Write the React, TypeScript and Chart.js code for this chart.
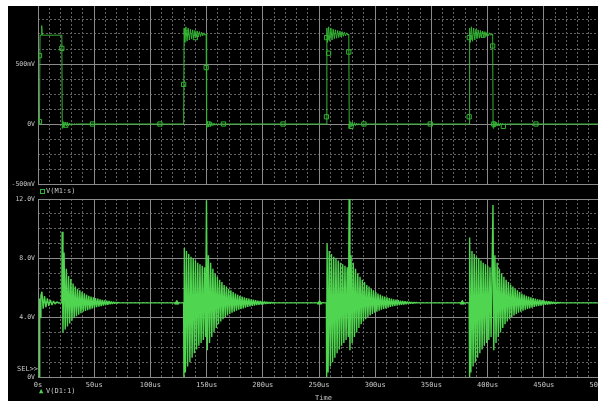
import React, { useEffect, useRef } from 'react';
import { Chart, registerables } from 'chart.js';

Chart.register(...registerables);

// ---------- switching instants (µs) ----------
const pulseRise = [1.3, 129.6, 256.6, 383.6];
const pulseFall = [21.2, 149.6, 276.5, 404.5];
const ringStep = 1; // µs between ringing samples

// ---------- V(M1:s) (volts) ----------
const m1Pulse1T = [0, 1.3, 1.8, 2.9, 3.3, 3.8, 21.2];
const m1Pulse1V = [0, 0, 0.74, 0.74, 0.82, 0.74, 0.74];
const m1OnStart = 0.8;
const m1OnRing = [0.68, 0.81, 0.69, 0.8, 0.7, 0.79, 0.71, 0.785, 0.715, 0.78, 0.72, 0.775, 0.725, 0.77, 0.73, 0.765, 0.735, 0.76, 0.74];
const m1FallStart = 0.75;
const m1Undershoot = -0.035;
const m1OffRing = [0.022, -0.024, 0.016, -0.018, 0.012, -0.014, 0.008, -0.01, 0.005, -0.007, 0.003, -0.004, 0.001, 0];
const m1MarkT = [1.3, 1.35, 21.2, 24.7, 48.5, 108.5, 129.6, 132, 140, 149.6, 152, 165, 218, 256.6, 256.7, 258.5, 276.5, 278.5, 290, 349, 383.6, 383.7, 396, 404.5, 405.5, 414, 443];
const m1MarkV = [0.02, 0.57, 0.63, -0.01, 0, 0, 0.33, 0.76, 0.72, 0.47, 0, 0, 0, 0.06, 0.72, 0.59, 0.6, -0.02, 0, 0, 0.06, 0.72, 0.74, 0.65, 0, -0.02, 0];

// ---------- V(D1:1) (volts) ----------
const d1Level = 5.0;
const d1StartT = [0, 1.3, 1.5, 1.9, 2.6, 3.5, 4.6, 5.8, 7.0, 8.3, 9.6, 11.0, 12.4, 13.8, 15.2, 16.8, 18.5, 21.2];
const d1StartV = [0, 0, 5.3, 4.0, 5.5, 5.75, 4.6, 5.45, 4.7, 5.3, 4.8, 5.2, 4.85, 5.12, 4.92, 5.06, 4.98, 5.0];
const d1OnPeak = [0, 8.7, 9.0, 9.4];
const d1OnRing = [0.3, 8.5, 0.7, 8.3, 1.0, 8.1, 1.3, 8.0, 1.6, 7.85, 1.85, 7.7, 2.1, 7.6, 2.3, 7.5, 2.5, 7.4, 2.7];
const d1OffSpike = [9.8, 11.9, 12.0, 11.6];
const d1OffRing1 = [
  3.0, 8.4, 3.2, 7.3, 3.4, 6.8, 3.6, 6.6, 3.8, 6.3,
  4.0, 6.1, 4.1, 5.95, 4.2, 5.85, 4.3, 5.75, 4.4, 5.65,
  4.45, 5.55, 4.5, 5.48, 4.55, 5.42, 4.6, 5.37, 4.65, 5.32,
  4.7, 5.28, 4.74, 5.24, 4.78, 5.2, 4.81, 5.17, 4.84, 5.14,
  4.87, 5.12, 4.9, 5.09, 4.92, 5.07, 4.94, 5.05, 4.96, 5.03,
];
const d1OffRing = [
  1.8, 8.2, 2.3, 7.7, 2.7, 7.3, 3.0, 7.0, 3.3, 6.75,
  3.55, 6.55, 3.75, 6.4, 3.9, 6.2, 4.05, 6.1, 4.15, 5.95,
  4.25, 5.85, 4.33, 5.72, 4.4, 5.63, 4.47, 5.55, 4.53, 5.48,
  4.58, 5.42, 4.63, 5.37, 4.68, 5.32, 4.72, 5.28, 4.76, 5.24,
  4.79, 5.21, 4.82, 5.18, 4.85, 5.15, 4.87, 5.13, 4.89, 5.11,
  4.91, 5.09, 4.93, 5.07, 4.95, 5.05, 4.96, 5.04, 4.98, 5.02,
];
const d1MarkT = [123.5, 250.5, 377.5];
const d1MarkV = [5.0, 5.0, 5.0];

// ---------- axes ----------
const timeTicks = [0, 50, 100, 150, 200, 250, 300, 350, 400, 450, 500];
const timeLabels = ['0s', '50us', '100us', '150us', '200us', '250us', '300us', '350us', '400us', '450us', '500us'];
const m1Ticks = [-0.5, 0, 0.5, 1.0];
const m1Labels = ['-500mV', '0V', '500mV', '1.0V'];
const d1Ticks = [0, 4, 8, 12];
const d1Labels = ['0V', '4.0V', '8.0V', '12.0V'];

const MAJOR = '#8a8a8a';
const MINOR = '#626262';
const TXT = '#c8c8c8';
const M1_COLOR = '#33b433';
const D1_COLOR = '#50d550';
const FONT = 'DejaVu Sans Mono';

type P = { x: number; y: number };

function buildM1(): P[] {
  const pts: P[] = [];
  m1Pulse1T.forEach((t, i) => pts.push({ x: t, y: m1Pulse1V[i] }));
  for (let p = 0; p < pulseRise.length; p++) {
    const tr = pulseRise[p];
    const tf = pulseFall[p];
    if (p > 0) {
      pts.push({ x: tr, y: 0 });
      pts.push({ x: tr + 0.4, y: m1OnStart });
      m1OnRing.forEach((v, i) => {
        const t = tr + 1 + i * ringStep;
        if (t < tf - 0.2) pts.push({ x: t, y: v });
      });
      pts.push({ x: tf, y: m1FallStart });
    }
    pts.push({ x: tf + 0.4, y: m1Undershoot });
    m1OffRing.forEach((v, i) => pts.push({ x: tf + 1 + i * ringStep, y: v }));
  }
  pts.push({ x: 500, y: 0 });
  return pts;
}

function buildD1(): P[] {
  const pts: P[] = [];
  d1StartT.forEach((t, i) => pts.push({ x: t, y: d1StartV[i] }));
  for (let p = 0; p < pulseRise.length; p++) {
    const tr = pulseRise[p];
    const tf = pulseFall[p];
    if (p > 0) {
      pts.push({ x: tr, y: d1Level });
      pts.push({ x: tr + 0.2, y: 0 });
      pts.push({ x: tr + 0.6, y: d1OnPeak[p] });
      d1OnRing.forEach((v, i) => {
        const t = tr + 1.5 + i * ringStep;
        if (t < tf) pts.push({ x: t, y: v });
      });
    }
    pts.push({ x: tf + 0.3, y: d1OffSpike[p] });
    const ring = p === 0 ? d1OffRing1 : d1OffRing;
    ring.forEach((v, i) => pts.push({ x: tf + 1 + i * ringStep, y: v }));
    pts.push({ x: tf + 1 + ring.length * ringStep, y: d1Level });
  }
  pts.push({ x: 500, y: d1Level });
  return pts;
}

function makeScales(opts: {
  yMin: number; yMax: number; yTicks: number[]; yLabels: string[]; yMinorStep: number;
  showX: boolean; xHeight: number;
}) {
  return {
    xMinor: {
      type: 'linear', position: 'bottom', min: 0, max: 500,
      ticks: { display: false, stepSize: 10 },
      grid: { color: MINOR, lineWidth: 1, drawTicks: false, z: -2 },
      border: { display: false, dash: [2, 2] },
      afterFit: (s: any) => { s.height = 0; s.paddingLeft = 0; s.paddingRight = 0; },
    },
    yMinor: {
      type: 'linear', position: 'left', min: opts.yMin, max: opts.yMax,
      ticks: { display: false, stepSize: opts.yMinorStep },
      grid: { color: MINOR, lineWidth: 1, drawTicks: false, z: -2 },
      border: { display: false, dash: [2, 2] },
      afterFit: (s: any) => { s.width = 0; s.paddingTop = 0; s.paddingBottom = 0; },
    },
    x: {
      type: 'linear', position: 'bottom', min: 0, max: 500,
      afterBuildTicks: (s: any) => { s.ticks = timeTicks.map((v) => ({ value: v })); },
      ticks: {
        display: opts.showX, autoSkip: false, maxRotation: 0, minRotation: 0, padding: 4,
        color: TXT, font: { family: FONT, size: 7 },
        callback: (v: any) => timeLabels[timeTicks.indexOf(v)],
      },
      grid: { color: MAJOR, lineWidth: 1, drawTicks: false, z: -1 },
      border: { display: true, color: MAJOR, width: 1 },
      afterFit: (s: any) => { s.height = opts.xHeight; s.paddingLeft = 0; s.paddingRight = 0; },
    },
    y: {
      type: 'linear', position: 'left', min: opts.yMin, max: opts.yMax,
      afterBuildTicks: (s: any) => { s.ticks = opts.yTicks.map((v) => ({ value: v })); },
      ticks: {
        display: true, padding: 3, color: TXT, font: { family: FONT, size: 6.5 },
        callback: (v: any) => opts.yLabels[opts.yTicks.indexOf(v)],
      },
      grid: { color: MAJOR, lineWidth: 1, drawTicks: false, z: -1 },
      border: { display: true, color: MAJOR, width: 1 },
      afterFit: (s: any) => { s.width = 30; s.paddingTop = 0; s.paddingBottom = 0; },
    },
  };
}

const textStyle: React.CSSProperties = {
  position: 'absolute', fontFamily: FONT, fontSize: 7, lineHeight: '8px',
  color: TXT, whiteSpace: 'pre',
};

export default function App() {
  const topRef = useRef<HTMLCanvasElement>(null);
  const botRef = useRef<HTMLCanvasElement>(null);

  useEffect(() => {
    const common = {
      animation: false as const,
      responsive: false,
      maintainAspectRatio: false,
      devicePixelRatio: 1,
      events: [] as any[],
      plugins: { legend: { display: false }, tooltip: { enabled: false } },
    };

    const top = new Chart(topRef.current!, {
      type: 'line',
      data: {
        datasets: [
          {
            data: buildM1(), borderColor: M1_COLOR, borderWidth: 1, pointRadius: 0,
            tension: 0, borderJoinStyle: 'bevel',
          } as any,
          {
            data: m1MarkT.map((t, i) => ({ x: t, y: m1MarkV[i] })),
            showLine: false, pointStyle: 'rect', pointRadius: 3,
            pointBorderColor: M1_COLOR, pointBackgroundColor: 'rgba(0,0,0,0)', pointBorderWidth: 1,
          } as any,
        ],
      },
      options: {
        ...common,
        layout: { padding: { top: 24, left: 0, right: 0, bottom: 0 } },
        scales: makeScales({
          yMin: -0.5, yMax: 1.0, yTicks: m1Ticks, yLabels: m1Labels, yMinorStep: 0.125,
          showX: false, xHeight: 6,
        }) as any,
      },
    });

    const bot = new Chart(botRef.current!, {
      type: 'line',
      data: {
        datasets: [
          {
            data: buildD1(), borderColor: D1_COLOR, borderWidth: 1.4, pointRadius: 0,
            tension: 0, borderJoinStyle: 'bevel',
          } as any,
          {
            data: d1MarkT.map((t, i) => ({ x: t, y: d1MarkV[i] })),
            showLine: false, pointStyle: 'triangle', pointRadius: 2.5,
            pointBorderColor: D1_COLOR, pointBackgroundColor: D1_COLOR, pointBorderWidth: 1,
          } as any,
        ],
      },
      options: {
        ...common,
        layout: { padding: { top: 7, left: 0, right: 0, bottom: 0 } },
        scales: makeScales({
          yMin: 0, yMax: 12, yTicks: d1Ticks, yLabels: d1Labels, yMinorStep: 1,
          showX: true, xHeight: 28,
        }) as any,
      },
    });

    return () => {
      top.destroy();
      bot.destroy();
    };
  }, []);

  return (
    <div style={{ position: 'fixed', left: 0, top: 0, width: 598, height: 401, overflow: 'hidden', background: '#fff' }}>
      <div style={{ position: 'absolute', left: 8, top: 6, width: 590, height: 395, background: '#000', overflow: 'hidden' }}>
        <canvas ref={topRef} width={597} height={210}
          style={{ position: 'absolute', left: 0, top: -26, width: 597, height: 210 }} />
        <canvas ref={botRef} width={597} height={213}
          style={{ position: 'absolute', left: 0, top: 186, width: 597, height: 213 }} />
        {/* legend of upper panel */}
        <div style={{ position: 'absolute', left: 32, top: 183, width: 3, height: 3, border: `1px solid ${M1_COLOR}` }} />
        <div style={{ ...textStyle, left: 38, top: 181 }}>V(M1:s)</div>
        {/* lower panel */}
        <div style={{ ...textStyle, left: 9, top: 359 }}>SEL&gt;&gt;</div>
        <div style={{ ...textStyle, left: 31, top: 381, color: D1_COLOR }}>▲</div>
        <div style={{ ...textStyle, left: 38, top: 381 }}>V(D1:1)</div>
        <div style={{ ...textStyle, left: 307, top: 388 }}>Time</div>
      </div>
    </div>
  );
}
